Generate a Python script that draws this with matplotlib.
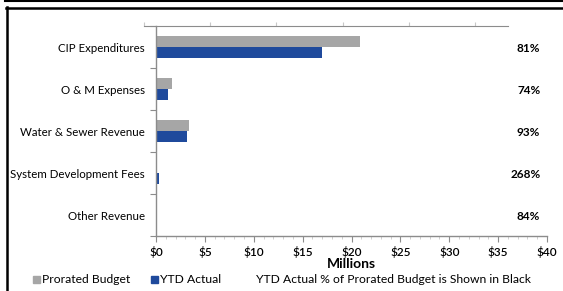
import matplotlib.pyplot as plt
import numpy as np
from matplotlib.lines import Line2D
from matplotlib.patches import Rectangle
from matplotlib.ticker import MultipleLocator, FuncFormatter

plt.rcParams['font.family'] = ['Lato', 'DejaVu Sans']

# 数据 (百万美元)
categories = ['CIP Expenditures', 'O & M Expenses', 'Water & Sewer Revenue',
              'System Development Fees', 'Other Revenue']
budget = [20.9, 1.67, 3.4, 0.11, 0.12]
actual = [17.0, 1.26, 3.17, 0.30, 0.10]
pct_labels = ['81%', '74%', '93%', '268%', '84%']

GRAY = '#A6A6A6'
BLUE = '#1F4A9C'
AXC = '#8C8C8C'

W, H = 563, 291
fig = plt.figure(figsize=(W / 100, H / 100), dpi=100)


def fx(px):
    return px / W


def fy(py):
    return 1 - py / H


ax = fig.add_axes([fx(156), fy(236), fx(547) - fx(156), fy(26) - fy(236)])
y = np.arange(len(categories))
h = 0.27
ax.barh(y - h / 2, budget, height=h, color=GRAY)
ax.barh(y + h / 2, actual, height=h, color=BLUE)

ax.set_xlim(0, 40)
ax.set_ylim(len(categories) - 0.5, -0.5)
ax.xaxis.set_major_locator(MultipleLocator(5))
ax.xaxis.set_minor_locator(MultipleLocator(1))
ax.xaxis.set_major_formatter(FuncFormatter(lambda v, p: '${:.0f}'.format(v)))
ax.set_yticks(y)
ax.set_yticklabels(categories, fontsize=8.3)
ax.set_yticks(np.arange(len(categories) + 1) - 0.5, minor=True)
ax.tick_params(axis='y', which='major', length=0, pad=8)
ax.tick_params(axis='y', which='minor', length=4, color=AXC, width=0.8)
ax.tick_params(axis='x', which='major', length=4, color=AXC, width=0.8,
               labelsize=8.5, pad=3)
ax.tick_params(axis='x', which='minor', length=2, color='#C8C8C8', width=0.6)
for lab in ax.get_xticklabels():
    lab.set_fontweight('semibold')
for s in ['top', 'right']:
    ax.spines[s].set_visible(False)
for s in ['left', 'bottom']:
    ax.spines[s].set_color(AXC)
    ax.spines[s].set_linewidth(1)
ax.set_xlabel('Millions', fontsize=10, fontweight='bold', labelpad=0)

# 百分比
for i, t in enumerate(pct_labels):
    ax.text(0.983, i + 0.04, t, transform=ax.get_yaxis_transform(), ha='right',
            va='center', fontsize=8.5, fontweight='bold')

# 顶部辅助轴
ax2 = fig.add_axes([fx(144), fy(26), fx(508) - fx(144), 0.001])
ax2.set_xlim(0, 5.5)
ax2.set_xticks(range(6))
ax2.set_yticks([])
ax2.tick_params(axis='x', direction='in', length=3, color='#C8C8C8',
                labelbottom=False)
for s in ['top', 'right', 'left']:
    ax2.spines[s].set_visible(False)
ax2.spines['bottom'].set_color(AXC)
ax2.patch.set_visible(False)

# 图例
fig.add_artist(Rectangle((fx(33), fy(283)), fx(7), 7 / H, color=GRAY))
fig.text(fx(42), fy(279.5), 'Prorated Budget', fontsize=8.7, va='center')
fig.add_artist(Rectangle((fx(151), fy(283)), fx(7), 7 / H, color=BLUE))
fig.text(fx(160), fy(279.5), 'YTD Actual', fontsize=8.7, va='center')
fig.text(fx(256), fy(279.5), 'YTD Actual % of Prorated Budget is Shown in Black',
         fontsize=8.7, va='center')

# 外框
fig.add_artist(Line2D([fx(5), 1], [fy(1), fy(1)], color='black', lw=1.5))
fig.add_artist(Line2D([fx(6), 1], [fy(8), fy(8)], color='black', lw=1.8))
fig.add_artist(Line2D([fx(7.5), fx(7.5)], [fy(7), 0], color='black', lw=1.8))

fig.savefig('out.png', dpi=100)
plt.close(fig)
